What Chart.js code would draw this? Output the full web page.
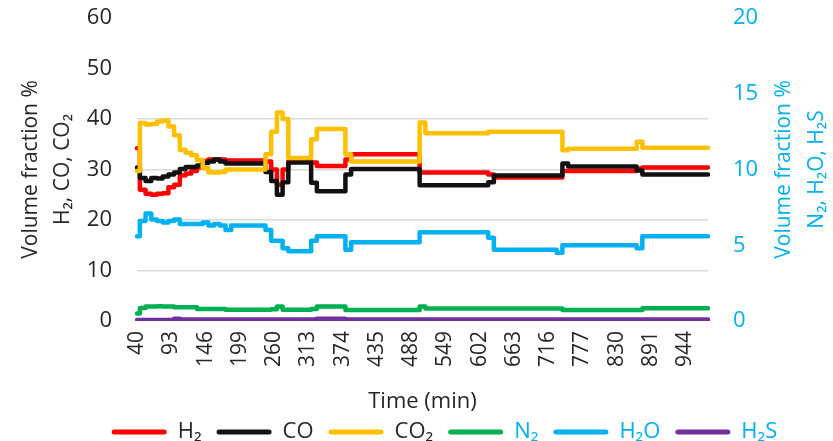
<!DOCTYPE html>
<html>
<head>
<meta charset="utf-8">
<title>Gas composition vs time</title>
<script src="https://cdn.jsdelivr.net/npm/chart.js@4.4.0/dist/chart.umd.min.js"></script>
<style>
  html, body { margin: 0; padding: 0; background: #fff; }
  #wrap { width: 833px; height: 441px; }
</style>
</head>
<body>
<div id="wrap"><canvas id="gasChart" width="833" height="441"></canvas></div>
<script>
// Gas composition over time, two y axes (left: H2/CO/CO2, right: N2/H2O/H2S)

const timeTicks = ['40', '93', '146', '199', '260', '313', '374', '435', '488',
    '549', '602', '663', '716', '777', '830', '891', '944'];
const samplesPerTick = 6;   // samples between two labelled ticks

const seriesNames = ['H\u2082', 'CO', 'CO\u2082', 'N\u2082', 'H\u2082O', 'H\u2082S'];
const seriesColors = ['#FF0000', '#111111', '#FFC000', '#00B050', '#00B0F0', '#7030A0'];

// volume fraction %, left axis
const h2 = [
    34.2, 26.0, 25.2, 25.0, 25.2, 25.3, 26.5, 27.0, 28.8, 29.2,
    29.7, 30.4, 31.7, 32.0, 32.0, 32.0, 31.8, 31.8, 31.8, 31.8,
    31.8, 31.8, 31.8, 31.6, 30.0, 27.0, 30.0, 31.6, 31.6, 31.6,
    31.6, 31.4, 30.7, 30.7, 30.7, 30.7, 30.7, 32.0, 33.0, 33.0,
    33.0, 33.0, 33.0, 33.0, 33.0, 33.0, 33.0, 33.0, 33.0, 33.0,
    29.4, 29.4, 29.4, 29.4, 29.4, 29.4, 29.4, 29.4, 29.4, 29.4,
    29.4, 29.4, 29.0, 28.4, 28.4, 28.4, 28.4, 28.4, 28.4, 28.4,
    28.4, 28.4, 28.4, 28.4, 28.4, 29.7, 29.7, 29.7, 29.7, 29.7,
    29.7, 29.7, 29.7, 29.7, 29.7, 29.7, 29.7, 29.7, 30.2, 30.4,
    30.4, 30.4, 30.4, 30.4, 30.4, 30.4, 30.4, 30.4, 30.4, 30.4, 30.4
];
const co = [
    30.4, 28.3, 27.7, 28.3, 28.2, 28.6, 29.0, 29.4, 30.1, 30.5,
    30.5, 30.8, 31.3, 31.6, 32.0, 31.6, 31.2, 31.2, 31.2, 31.2,
    31.2, 31.2, 31.2, 29.5, 27.7, 25.0, 27.5, 31.4, 31.4, 31.4,
    31.4, 27.4, 25.7, 25.7, 25.7, 25.7, 25.7, 29.0, 30.1, 30.1,
    30.1, 30.1, 30.1, 30.1, 30.1, 30.1, 30.1, 30.1, 30.1, 30.1,
    26.9, 26.9, 26.9, 26.9, 26.9, 26.9, 26.9, 26.9, 26.9, 26.9,
    26.9, 26.9, 27.5, 28.8, 28.8, 28.8, 28.8, 28.8, 28.8, 28.8,
    28.8, 28.8, 28.8, 28.8, 28.8, 31.2, 30.6, 30.6, 30.6, 30.6,
    30.6, 30.6, 30.6, 30.6, 30.6, 30.6, 30.6, 30.6, 29.8, 29.0,
    29.0, 29.0, 29.0, 29.0, 29.0, 29.0, 29.0, 29.0, 29.0, 29.0, 29.0
];
const co2 = [
    29.7, 39.2, 38.9, 39.0, 39.5, 39.7, 38.5, 36.8, 33.9, 33.3,
    32.8, 31.9, 30.3, 29.4, 29.4, 29.5, 30.0, 30.0, 30.0, 30.0,
    30.0, 30.0, 30.0, 33.0, 37.5, 41.3, 40.0, 32.3, 32.3, 32.3,
    32.3, 36.0, 38.0, 38.0, 38.0, 38.0, 38.0, 33.0, 31.6, 31.6,
    31.6, 31.6, 31.6, 31.6, 31.6, 31.6, 31.6, 31.6, 31.6, 31.6,
    39.3, 37.2, 37.2, 37.2, 37.2, 37.2, 37.2, 37.2, 37.2, 37.2,
    37.2, 37.2, 37.5, 37.5, 37.5, 37.5, 37.5, 37.5, 37.5, 37.5,
    37.5, 37.5, 37.5, 37.5, 37.5, 33.8, 34.1, 34.1, 34.1, 34.1,
    34.1, 34.1, 34.1, 34.1, 34.1, 34.1, 34.1, 34.1, 35.5, 34.3,
    34.3, 34.3, 34.3, 34.3, 34.3, 34.3, 34.3, 34.3, 34.3, 34.3, 34.3
];

// volume fraction %, right axis
const n2 = [
    0.50, 0.85, 0.95, 0.95, 0.98, 0.95, 0.95, 0.90, 0.90, 0.90,
    0.90, 0.80, 0.80, 0.80, 0.80, 0.80, 0.75, 0.75, 0.75, 0.75,
    0.75, 0.75, 0.75, 0.75, 0.78, 0.95, 0.75, 0.75, 0.75, 0.75,
    0.75, 0.80, 0.95, 0.95, 0.95, 0.95, 0.95, 0.73, 0.73, 0.73,
    0.73, 0.73, 0.73, 0.73, 0.73, 0.73, 0.73, 0.73, 0.73, 0.73,
    0.95, 0.82, 0.82, 0.82, 0.82, 0.82, 0.82, 0.82, 0.82, 0.82,
    0.82, 0.82, 0.82, 0.82, 0.82, 0.82, 0.82, 0.82, 0.82, 0.82,
    0.82, 0.82, 0.82, 0.82, 0.82, 0.73, 0.73, 0.73, 0.73, 0.73,
    0.73, 0.73, 0.73, 0.73, 0.73, 0.73, 0.73, 0.73, 0.73, 0.84,
    0.84, 0.84, 0.84, 0.84, 0.84, 0.84, 0.84, 0.84, 0.84, 0.84, 0.84
];
const h2o = [
    5.6, 6.6, 7.1, 6.7, 6.6, 6.5, 6.6, 6.7, 6.4, 6.4,
    6.4, 6.4, 6.5, 6.3, 6.4, 6.3, 6.0, 6.3, 6.3, 6.3,
    6.3, 6.3, 6.3, 6.0, 5.3, 5.3, 4.8, 4.6, 4.6, 4.6,
    4.6, 5.3, 5.6, 5.6, 5.6, 5.6, 5.6, 4.7, 5.2, 5.2,
    5.2, 5.2, 5.2, 5.2, 5.2, 5.2, 5.2, 5.2, 5.2, 5.2,
    5.85, 5.85, 5.85, 5.85, 5.85, 5.85, 5.85, 5.85, 5.85, 5.85,
    5.85, 5.85, 5.5, 4.7, 4.7, 4.7, 4.7, 4.7, 4.7, 4.7,
    4.7, 4.7, 4.7, 4.7, 4.5, 5.0, 5.0, 5.0, 5.0, 5.0,
    5.0, 5.0, 5.0, 5.0, 5.0, 5.0, 5.0, 5.0, 4.8, 5.6,
    5.6, 5.6, 5.6, 5.6, 5.6, 5.6, 5.6, 5.6, 5.6, 5.6, 5.6
];
const h2s = [
    0.07, 0.07, 0.07, 0.07, 0.07, 0.07, 0.07, 0.15, 0.10, 0.10,
    0.10, 0.10, 0.10, 0.10, 0.10, 0.10, 0.10, 0.10, 0.10, 0.10,
    0.10, 0.10, 0.10, 0.10, 0.10, 0.10, 0.10, 0.10, 0.10, 0.10,
    0.10, 0.10, 0.15, 0.15, 0.15, 0.15, 0.15, 0.10, 0.10, 0.10,
    0.10, 0.10, 0.10, 0.10, 0.10, 0.10, 0.10, 0.10, 0.10, 0.10,
    0.10, 0.10, 0.10, 0.10, 0.10, 0.10, 0.10, 0.10, 0.10, 0.10,
    0.10, 0.10, 0.10, 0.10, 0.10, 0.10, 0.10, 0.10, 0.10, 0.10,
    0.10, 0.10, 0.10, 0.10, 0.10, 0.10, 0.10, 0.10, 0.10, 0.10,
    0.10, 0.10, 0.10, 0.10, 0.10, 0.10, 0.10, 0.10, 0.10, 0.10,
    0.10, 0.10, 0.10, 0.10, 0.10, 0.10, 0.10, 0.10, 0.10, 0.10, 0.10
];

const leftTitle = ['Volume fraction %', 'H\u2082, CO, CO\u2082'];
const rightTitle = ['Volume fraction %', 'N\u2082, H\u2082O, H\u2082S'];

const FONT = '"Open Sans", "DejaVu Sans", sans-serif';
const TEXT = '#262626';
const BLUE = '#00B0F0';

// only every 6th sample carries a time label
const categories = h2.map((_, i) =>
    (i % samplesPerTick === 0 && timeTicks[i / samplesPerTick]) || '');

function makeSet(idx, values, axis) {
    return {
        label: seriesNames[idx],
        data: values,
        yAxisID: axis,
        borderColor: seriesColors[idx],
        backgroundColor: seriesColors[idx],
        borderWidth: 4.5,
        pointRadius: 0,
        stepped: 'middle',
        borderJoinStyle: 'round',
        borderCapStyle: 'round',
        order: 6 - idx   // later series on top, like the original
    };
}

// y axes: fixed width, and no extra room above/below for the tick labels
function fixYAxis(width) {
    return scale => {
        scale.width = width;
        scale.paddingTop = 0;
        scale.paddingBottom = 0;
    };
}

// right title reads bottom-to-top, Chart.js would rotate it the other way;
// also nudges the legend to where the original has it
const layoutTweaks = {
    id: 'layoutTweaks',
    afterUpdate(chart) {
        const lg = chart.legend;
        lg.left += 28;
        lg.right += 28;
        lg.top -= 5;
    },
    afterDraw(chart) {
        const scale = chart.scales.y1;
        const ctx = chart.ctx;
        const midY = (chart.chartArea.top + chart.chartArea.bottom) / 2;
        ctx.save();
        ctx.fillStyle = BLUE;
        ctx.font = '21px ' + FONT;
        ctx.textAlign = 'center';
        ctx.textBaseline = 'middle';
        rightTitle.forEach((line, k) => {
            ctx.save();
            ctx.translate(scale.right - 49 + k * 33, midY);
            ctx.rotate(-Math.PI / 2);
            ctx.fillText(line, 0, 0);
            ctx.restore();
        });
        ctx.restore();
    }
};

new Chart(document.getElementById('gasChart'), {
    type: 'line',
    data: {
        labels: categories,
        datasets: [
            makeSet(0, h2, 'y'),
            makeSet(1, co, 'y'),
            makeSet(2, co2, 'y'),
            makeSet(3, n2, 'y1'),
            makeSet(4, h2o, 'y1'),
            makeSet(5, h2s, 'y1')
        ]
    },
    options: {
        responsive: false,
        animation: false,
        layout: { padding: { top: 18, right: 0, bottom: 0, left: 0 } },
        plugins: {
            tooltip: { enabled: false },
            legend: {
                position: 'bottom',
                maxHeight: 30,
                labels: {
                    font: { family: FONT, size: 22 },
                    boxWidth: 55,
                    boxHeight: 5,
                    padding: 15,
                    sort: (a, b) => a.datasetIndex - b.datasetIndex,
                    generateLabels(chart) {
                        const items = Chart.defaults.plugins.legend.labels.generateLabels(chart);
                        return items.map(item => Object.assign(item, {
                            lineWidth: 0,
                            borderRadius: 2.5,
                            fontColor: item.datasetIndex < 3 ? TEXT : BLUE
                        }));
                    }
                }
            }
        },
        scales: {
            x: {
                type: 'category',
                grid: { display: false, drawTicks: false },
                border: { display: false },
                ticks: {
                    autoSkip: false,
                    maxRotation: 90,
                    minRotation: 90,
                    padding: 10,
                    color: TEXT,
                    font: { family: FONT, size: 21 }
                },
                title: {
                    display: true,
                    text: 'Time (min)',
                    color: TEXT,
                    font: { family: FONT, size: 22, lineHeight: 1.0 },
                    padding: { top: 0, bottom: -2 }
                },
                afterFit(scale) { scale.height = 90; }
            },
            y: {
                position: 'left',
                min: 0,
                max: 60,
                ticks: {
                    stepSize: 10,
                    padding: 25,
                    color: TEXT,
                    font: { family: FONT, size: 22 }
                },
                grid: {
                    drawTicks: false,
                    lineWidth: 1.5,
                    color: c => (c.tick.value > 0 && c.tick.value < 50) ? '#D9D9D9' : 'rgba(0,0,0,0)'
                },
                border: { display: false },
                title: {
                    display: true,
                    text: leftTitle,
                    color: TEXT,
                    font: { family: FONT, size: 21, lineHeight: 1.52 },
                    padding: { top: 15, bottom: 0 }
                },
                afterFit: fixYAxis(137)
            },
            y1: {
                position: 'right',
                min: 0,
                max: 20,
                ticks: {
                    stepSize: 5,
                    padding: 25,
                    color: BLUE,
                    font: { family: FONT, size: 22 }
                },
                grid: { display: false, drawTicks: false },
                border: { display: false },
                afterFit: fixYAxis(125)
            }
        }
    },
    plugins: [layoutTweaks]
});
</script>
</body>
</html>
